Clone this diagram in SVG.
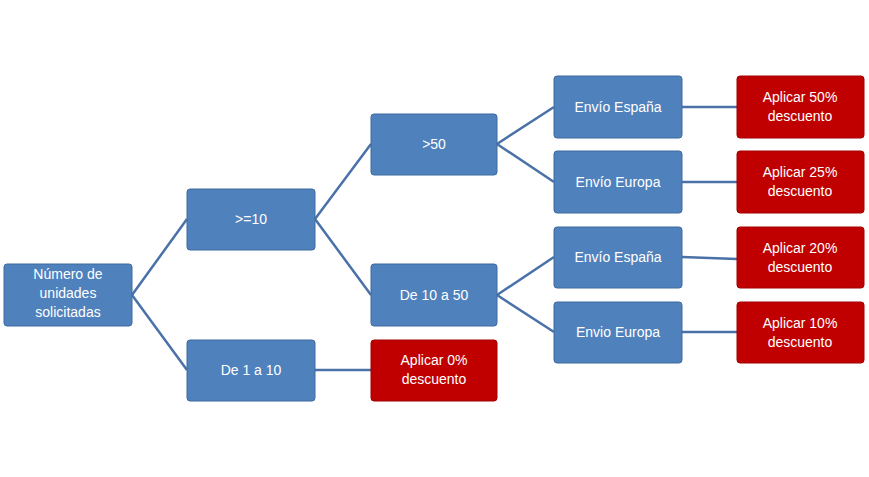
<svg xmlns="http://www.w3.org/2000/svg" width="869" height="477" viewBox="0 0 869 477">
<style>
.b{fill:#4F81BD;stroke:#3F6A9E;stroke-width:1}
.r{fill:#C00000;stroke:#A00000;stroke-width:1}
text{font-family:"Liberation Sans",Arial,sans-serif;font-size:14px;fill:#fff;text-anchor:middle}
#connectors path{stroke:#4A71A8;stroke-width:2.5;fill:none}
</style>
<rect width="869" height="477" fill="#fff"/>
<g id="connectors">
<path d="M132 295L187 219M132 295L187 370M315 219L371 144M315 219L371 295M497 144L554 107M497 144L554 182M497 295L554 257M497 295L554 332M315 370H371M682 107H737M682 182H737M682 257L737 259M682 332H737"/>
</g>
<g id="n_root"><rect class="b" x="4" y="264" width="128" height="62" rx="3"/><text x="68" y="279">Número de</text><text x="68" y="298">unidades</text><text x="68" y="317">solicitadas</text></g>
<g id="n_ge10"><rect class="b" x="187" y="189" width="128" height="61" rx="3"/><text x="251" y="224">&gt;=10</text></g>
<g id="n_1a10"><rect class="b" x="187" y="340" width="128" height="61" rx="3"/><text x="251" y="375">De 1 a 10</text></g>
<g id="n_gt50"><rect class="b" x="371" y="114" width="126" height="61" rx="3"/><text x="434" y="149">&gt;50</text></g>
<g id="n_10a50"><rect class="b" x="371" y="264" width="126" height="62" rx="3"/><text x="434" y="300">De 10 a 50</text></g>
<g id="n_0"><rect class="r" x="371" y="340" width="126" height="61" rx="3"/><text x="434" y="365">Aplicar 0%</text><text x="434" y="384">descuento</text></g>
<g id="n_esp1"><rect class="b" x="554" y="76" width="128" height="62" rx="3"/><text x="618" y="112">Envío España</text></g>
<g id="n_eur1"><rect class="b" x="554" y="151" width="128" height="62" rx="3"/><text x="618" y="187">Envío Europa</text></g>
<g id="n_esp2"><rect class="b" x="554" y="227" width="128" height="61" rx="3"/><text x="618" y="262">Envío España</text></g>
<g id="n_eur2"><rect class="b" x="554" y="302" width="128" height="61" rx="3"/><text x="618" y="337">Envio Europa</text></g>
<g id="n_50"><rect class="r" x="737" y="76" width="127" height="62" rx="3"/><text x="800" y="102">Aplicar 50%</text><text x="800" y="121">descuento</text></g>
<g id="n_25"><rect class="r" x="737" y="151" width="127" height="62" rx="3"/><text x="800" y="177">Aplicar 25%</text><text x="800" y="196">descuento</text></g>
<g id="n_20"><rect class="r" x="737" y="227" width="127" height="61" rx="3"/><text x="800" y="253">Aplicar 20%</text><text x="800" y="272">descuento</text></g>
<g id="n_10"><rect class="r" x="737" y="302" width="127" height="61" rx="3"/><text x="800" y="328">Aplicar 10%</text><text x="800" y="347">descuento</text></g>
</svg>
